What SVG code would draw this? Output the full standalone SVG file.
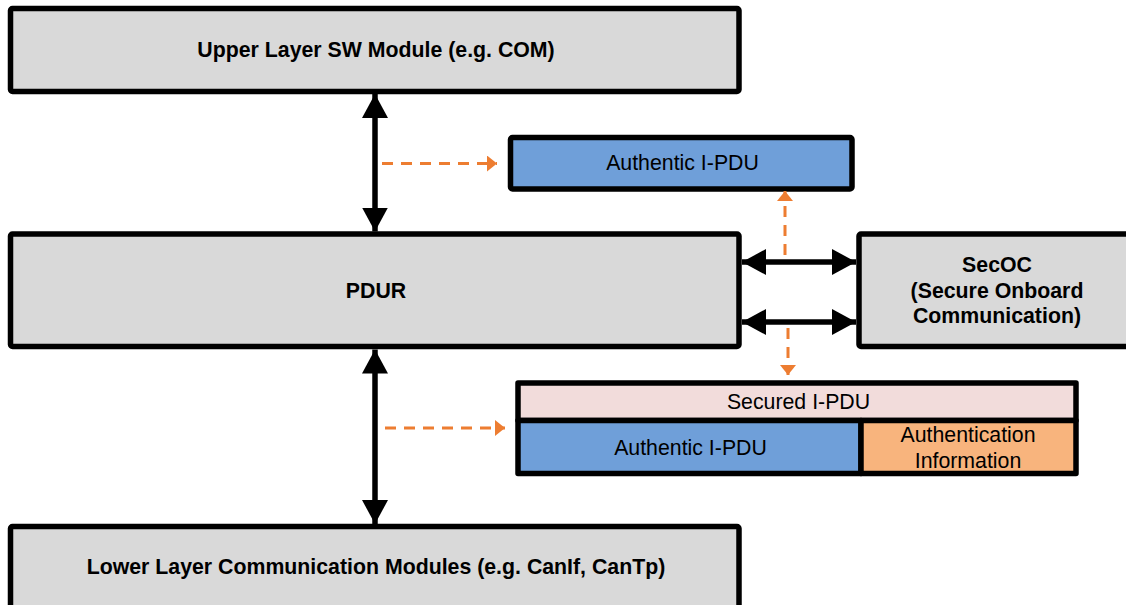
<svg xmlns="http://www.w3.org/2000/svg" width="1126" height="605" viewBox="0 0 1126 605">
<style>
.box{stroke:#000;stroke-width:5.5;stroke-linejoin:round}
.gray{fill:#d9d9d9}
.blue{fill:#6f9fd9}
.pink{fill:#f2dcdb}
.orangef{fill:#f8b47d}
.b{font-family:"Liberation Sans",Arial,sans-serif;font-weight:bold;font-size:21.3px;fill:#000;text-anchor:middle}
.r{font-family:"Liberation Sans",Arial,sans-serif;font-size:21.3px;fill:#000;text-anchor:middle}
.blk{stroke:#000;stroke-width:5.5;fill:none}
.dash{stroke:#ed7d31;stroke-width:3;stroke-dasharray:11 8;fill:none}
</style>
<defs>
<marker id="ah" viewBox="0 0 24 26" refX="24" refY="13" markerWidth="24" markerHeight="26" markerUnits="userSpaceOnUse" orient="auto-start-reverse">
<path d="M0,0 L24,13 L0,26 Z" fill="#000"/>
</marker>
<marker id="oh" viewBox="0 0 10 16" refX="10" refY="8" markerWidth="10" markerHeight="16" markerUnits="userSpaceOnUse" orient="auto">
<path d="M0,0 L10,8 L0,16 Z" fill="#ed7d31"/>
</marker>
</defs>
<g id="upper">
<rect class="box gray" x="10.5" y="8.5" width="728.5" height="83" rx="2"/>
<text class="b" x="376" y="57.3">Upper Layer SW Module (e.g. COM)</text>
</g>
<g id="pdur">
<rect class="box gray" x="10.5" y="234" width="728.5" height="112.5" rx="2"/>
<text class="b" x="376" y="298">PDUR</text>
</g>
<g id="secoc">
<rect class="box gray" x="859" y="234" width="280" height="112.5" rx="2"/>
<text class="b" x="997" y="272">SecOC</text>
<text class="b" x="997" y="298">(Secure Onboard</text>
<text class="b" x="997" y="323">Communication)</text>
</g>
<g id="lower">
<rect class="box gray" x="10.5" y="526.5" width="728.5" height="90" rx="2"/>
<text class="b" x="376" y="574">Lower Layer Communication Modules (e.g. CanIf, CanTp)</text>
</g>
<g id="authentic-top">
<rect class="box blue" x="510.5" y="137.5" width="341.5" height="51.5" rx="2"/>
<text class="r" x="682.5" y="170">Authentic I-PDU</text>
</g>
<g id="secured">
<rect class="box pink" x="518" y="383" width="558" height="37.5"/>
<rect class="box blue" x="518" y="420.5" width="343" height="53"/>
<rect class="box orangef" x="861" y="420.5" width="215" height="53"/>
<text class="r" x="798.5" y="408.5">Secured I-PDU</text>
<text class="r" x="690.5" y="454.5">Authentic I-PDU</text>
<text class="r" x="968" y="441.5">Authentication</text>
<text class="r" x="968" y="467.5">Information</text>
</g>
<g id="connectors">
<line class="blk" x1="375" y1="94" x2="375" y2="231.5" marker-start="url(#ah)" marker-end="url(#ah)"/>
<line class="blk" x1="375" y1="349.5" x2="375" y2="524" marker-start="url(#ah)" marker-end="url(#ah)"/>
<line class="blk" x1="742" y1="262" x2="856" y2="262" marker-start="url(#ah)" marker-end="url(#ah)"/>
<line class="blk" x1="742" y1="322" x2="856" y2="322" marker-start="url(#ah)" marker-end="url(#ah)"/>
<line class="dash" x1="382" y1="163.5" x2="497" y2="163.5" marker-end="url(#oh)"/>
<line class="dash" x1="385" y1="428" x2="505" y2="428" marker-end="url(#oh)"/>
<line class="dash" x1="785" y1="255" x2="785" y2="191" marker-end="url(#oh)"/>
<line class="dash" x1="788" y1="328" x2="788" y2="375" marker-end="url(#oh)"/>
</g>
</svg>
